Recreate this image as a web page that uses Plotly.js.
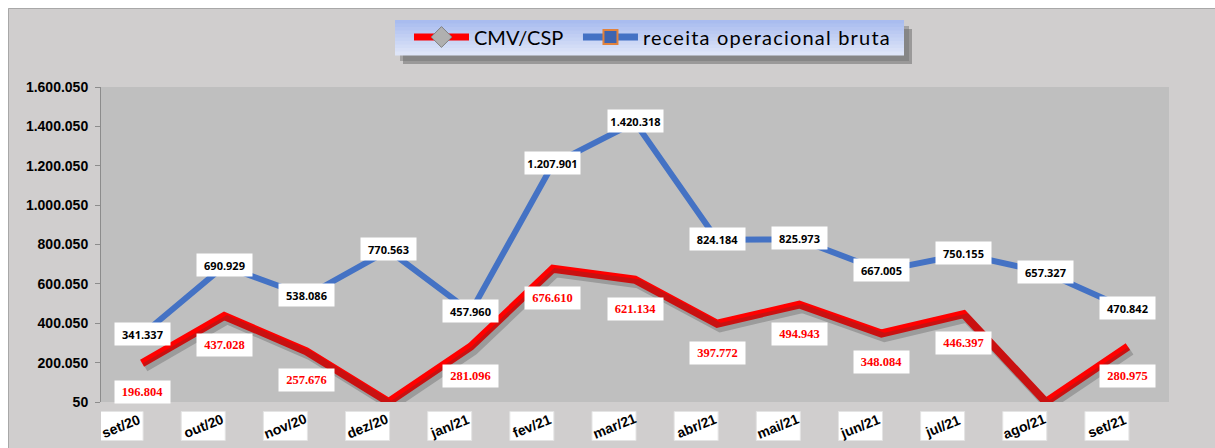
<!DOCTYPE html>
<html>
<head>
<meta charset="utf-8">
<script src="https://cdn.plot.ly/plotly-3.0.1.min.js"></script>
<style>html,body{margin:0;padding:0;background:#fff;}#chart{width:1215px;height:448px;}</style>
</head>
<body>
<div id="chart"></div>
<script>
// ---- data ----
const months = ['set/20','out/20','nov/20','dez/20','jan/21','fev/21','mar/21','abr/21','mai/21','jun/21','jul/21','ago/21','set/21'];
const receita = [341337, 690929, 538086, 770563, 457960, 1207901, 1420318, 824184, 825973, 667005, 750155, 657327, 470842];
const cmv = [196804, 437028, 257676, 0, 281096, 676610, 621134, 397772, 494943, 348084, 446397, 0, 280975];
const nameCmv = 'CMV/CSP';
const nameReceita = 'receita operacional bruta';
const yTickStart = 50, yTickStep = 200000, yMax = 1600050;

// ---- geometry helpers (pixel layout of the plot area) ----
const W = 1215, H = 448, L = 101, R = 1169, T = 87, B = 402;
const pw = R - L, ph = B - T;
const px2x = p => (p - L) / pw;
const py2y = p => (B - p) / ph;
const unitsPerPx = (yMax - yTickStart) / ph;
const catPx = pw / months.length;

function fmt(v) {
  return String(Math.round(v)).replace(/\B(?=(\d{3})+(?!\d))/g, '.');
}

const traces = [
  // shadow of red line
  {x: months, y: cmv, xaxis: 'x2', yaxis: 'y2', mode: 'lines', showlegend: false, hoverinfo: 'skip',
   line: {color: 'rgba(60,60,60,0.28)', width: 9}},
  {x: months, y: receita, mode: 'lines', name: nameReceita, showlegend: false,
   line: {color: '#4472c4', width: 6}},
  {x: months, y: cmv, mode: 'lines', name: nameCmv, showlegend: false,
   line: {color: '#ff0000', width: 8}},
  // legend-only entries
  {x: [null], y: [null], mode: 'lines+markers', name: nameCmv + '\u00A0\u00A0',
   line: {color: '#ff0000', width: 7},
   marker: {symbol: 'diamond', size: 17, color: '#b0b0b0', line: {color: '#808080', width: 1}}},
  {x: [null], y: [null], mode: 'lines+markers',
   name: '<span style="letter-spacing:1.2px">' + nameReceita + '</span>',
   line: {color: '#4472c4', width: 7},
   marker: {symbol: 'square', size: 14, color: '#3d64b0', line: {color: '#e2823c', width: 2}}}
];

const annotations = [];
const shapes = [];

// data labels
receita.forEach((v, i) => {
  annotations.push({x: months[i], y: v, xref: 'x', yref: 'y', text: fmt(v), showarrow: false,
    yshift: 1, bgcolor: '#ffffff', width: 55, height: 22, borderpad: 0,
    font: {family: 'Open Sans, Liberation Sans, Arial', size: 11, color: '#000000', weight: 'bold'}});
});
cmv.forEach((v, i) => {
  if (v <= yTickStart) return;
  annotations.push({x: months[i], y: v, xref: 'x', yref: 'y', text: fmt(v), showarrow: false,
    yshift: -29, bgcolor: '#ffffff', width: 55, height: 22, borderpad: 0,
    font: {family: 'Liberation Serif, Times New Roman, serif', size: 12.5, color: '#ff0000', weight: 'bold'}});
});

// x category labels in white boxes (right edge at the category centre)
months.forEach((m) => {
  shapes.push({type: 'rect', xref: 'x', xsizemode: 'pixel', xanchor: m, x0: -43, x1: 1,
    yref: 'paper', ysizemode: 'pixel', yanchor: 0, y0: -9.5, y1: -38.5,
    fillcolor: '#ffffff', line: {color: '#e4e4e4', width: 1}, layer: 'above'});
  annotations.push({x: m, y: 0, xref: 'x', yref: 'paper', text: m, showarrow: false,
    xshift: -21, yshift: -24, textangle: -22, yanchor: 'middle', xanchor: 'center',
    font: {family: 'Liberation Sans, Arial', size: 14, color: '#000000', weight: 'bold'}});
});

// outer frame: white strips + border line
shapes.push({type: 'rect', xref: 'paper', yref: 'paper', x0: px2x(-50), x1: px2x(W + 50), y0: py2y(8), y1: py2y(-50),
  fillcolor: '#ffffff', line: {width: 0}, layer: 'below'});
shapes.push({type: 'rect', xref: 'paper', yref: 'paper', x0: px2x(-50), x1: px2x(8), y0: py2y(H + 50), y1: py2y(-50),
  fillcolor: '#ffffff', line: {width: 0}, layer: 'below'});
shapes.push({type: 'rect', xref: 'paper', yref: 'paper', x0: px2x(8.5), x1: px2x(W + 50), y0: py2y(H + 50), y1: py2y(8.5),
  fillcolor: 'rgba(0,0,0,0)', line: {color: '#a8a8a8', width: 1}, layer: 'below'});

// legend shadow + gradient background
const lgX0 = 395, lgX1 = 904, lgY0 = 20, lgY1 = 55;
shapes.push({type: 'rect', xref: 'paper', yref: 'paper', x0: px2x(lgX0 + 8), x1: px2x(lgX1 + 8), y0: py2y(lgY1 + 9), y1: py2y(lgY0 + 9),
  fillcolor: 'rgba(110,110,110,0.55)', line: {width: 0}, layer: 'below'});
shapes.push({type: 'rect', xref: 'paper', yref: 'paper', x0: px2x(lgX0 + 5), x1: px2x(lgX1 + 5), y0: py2y(lgY1 + 6), y1: py2y(lgY0 + 6),
  fillcolor: 'rgba(110,110,110,0.45)', line: {width: 0}, layer: 'below'});
const bands = 10;
for (let k = 0; k < bands; k++) {
  const t = k / (bands - 1);
  const c0 = [169, 188, 239], c1 = [222, 229, 248];
  const c = c0.map((a, j) => Math.round(a + (c1[j] - a) * t));
  const yA = lgY0 + (lgY1 - lgY0) * k / bands, yB = lgY0 + (lgY1 - lgY0) * (k + 1) / bands;
  shapes.push({type: 'rect', xref: 'paper', yref: 'paper', x0: px2x(lgX0), x1: px2x(lgX1), y0: py2y(yB + 0.5), y1: py2y(yA),
    fillcolor: `rgb(${c[0]},${c[1]},${c[2]})`, line: {width: 0}, layer: 'below'});
}

const layout = {
  width: W, height: H,
  margin: {l: L, r: W - R, t: T, b: H - B, pad: 0},
  paper_bgcolor: '#d0cece',
  plot_bgcolor: '#bfbfbf',
  separators: ',.',
  showlegend: true,
  legend: {orientation: 'h', x: px2x(lgX0 + 14), y: py2y((lgY0 + lgY1) / 2 - 0.5), xanchor: 'left', yanchor: 'middle',
    bgcolor: 'rgba(0,0,0,0)', borderwidth: 0, itemwidth: 55, traceorder: 'normal',
    font: {family: 'Lato, Liberation Sans, Arial', size: 20, color: '#000000'}},
  xaxis: {type: 'category', range: [-0.5, months.length - 0.5], showticklabels: false, ticks: '',
    showgrid: false, zeroline: false, showline: false, fixedrange: true},
  xaxis2: {type: 'category', overlaying: 'x', visible: false,
    range: [-0.5 - 3 / catPx, months.length - 0.5 - 3 / catPx]},
  yaxis: {range: [yTickStart, yMax], tick0: yTickStart, dtick: yTickStep, tickformat: ',d',
    showgrid: false, zeroline: false, showline: true, linecolor: '#8c8c8c', linewidth: 1,
    ticks: 'outside', ticklen: 5, tickcolor: '#8c8c8c', ticklabelstandoff: 4,
    tickfont: {family: 'Liberation Sans, Arial', size: 14, color: '#000000', weight: 'bold'}},
  yaxis2: {overlaying: 'y', visible: false,
    range: [yTickStart + 4 * unitsPerPx, yMax + 4 * unitsPerPx]},
  annotations: annotations,
  shapes: shapes
};

Plotly.newPlot('chart', traces, layout, {staticPlot: true, displayModeBar: false});
</script>
</body>
</html>
